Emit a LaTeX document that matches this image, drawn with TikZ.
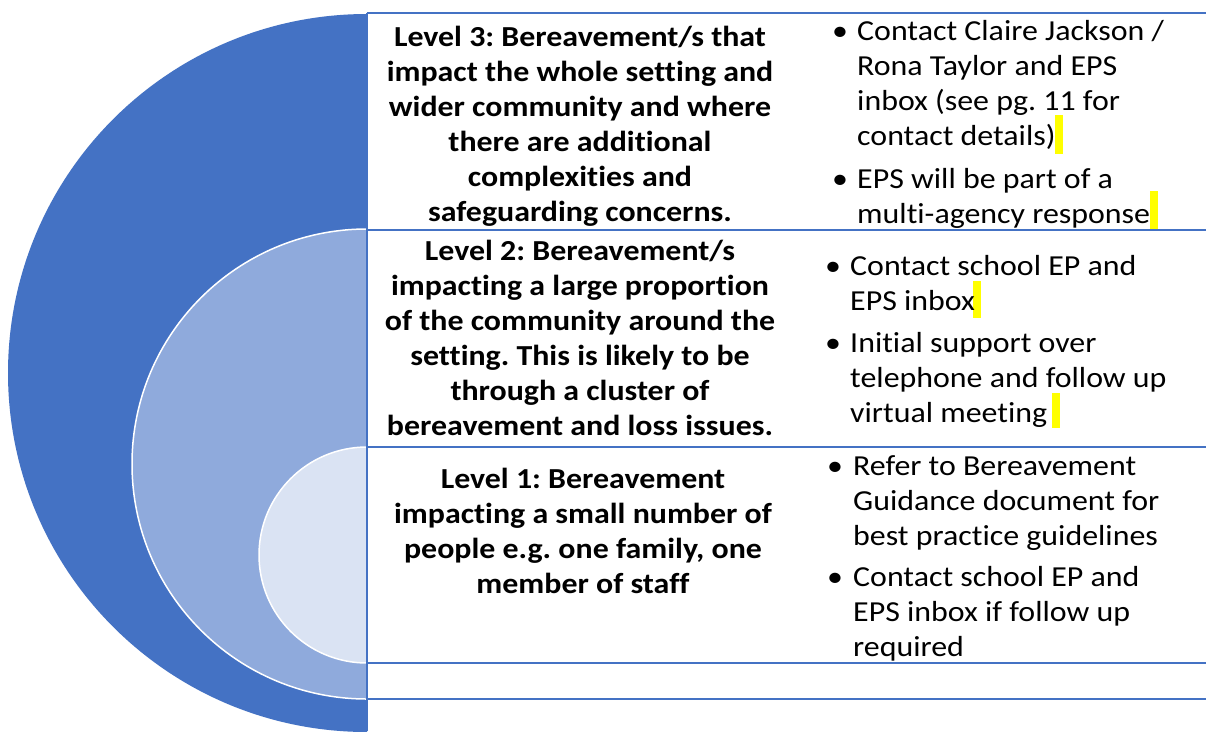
\documentclass[tikz,border=0pt]{standalone}
\usepackage{fontspec}
\setmainfont{Carlito}[FakeStretch=1.1,Ligatures=NoCommon]
\frenchspacing
\definecolor{cdark}{HTML}{4472C4}
\definecolor{cmid}{HTML}{8FAADC}
\definecolor{clight}{HTML}{DAE3F3}
\definecolor{hl}{HTML}{FFFF00}
\begin{document}
\begin{tikzpicture}[x=1pt,y=-1pt,
  rule/.style={draw=cdark,line width=2.6pt},
  lefttext/.style={anchor=north,align=center,inner sep=0pt,font=\bfseries\fontsize{29}{35}\selectfont},
  righttext/.style={anchor=north west,align=left,inner sep=0pt,font=\fontsize{29}{35}\selectfont},
  bul/.style={anchor=base,inner sep=0pt,font=\fontsize{29}{35}\selectfont},
  hlmark/.style={fill=hl,draw=none}]
\useasboundingbox (0,0) rectangle (1206,731);
\fill[white] (0,0) rectangle (1206,731);
% half discs
\begin{scope}
\clip (0,0) rectangle (367,731);
\fill[cdark] (367,373) circle (359pt);
\filldraw[fill=cmid,draw=white,line width=1.5pt] (367,464) circle (235pt);
\filldraw[fill=clight,draw=white,line width=1.5pt] (367,555) circle (108pt);
\end{scope}
% highlight marks
\fill[hlmark] (1055,115) rectangle (1063,154);
\fill[hlmark] (1150,191) rectangle (1158,230);
\fill[hlmark] (973,281) rectangle (981,318);
\fill[hlmark] (1052,393) rectangle (1060,428);
% grid lines
\coordinate (vt) at (367,13);
\coordinate (vb) at (367,731);
\coordinate (h0l) at (367,13);  \coordinate (h0r) at (1206,13);
\coordinate (h1l) at (367,230); \coordinate (h1r) at (1206,230);
\coordinate (h2l) at (367,447); \coordinate (h2r) at (1206,447);
\coordinate (h3l) at (367,663); \coordinate (h3r) at (1206,663);
\coordinate (h4l) at (367,699); \coordinate (h4r) at (1206,699);
\draw[rule] (h0l) -- (h0r);
\draw[rule] (h1l) -- (h1r);
\draw[rule] (h2l) -- (h2r);
\draw[rule] (h3l) -- (h3r);
\draw[rule] (h4l) -- (h4r);
\draw[rule] (vt) -- (vb);
% left column
\node[lefttext] (l3) at (580,21.5) {\strut Level 3: Bereavement/s that\\impact the whole setting and\\wider community and where\\there are additional\\complexities and\\safeguarding concerns.};
\node[lefttext] (l2) at (580,235.5) {\strut Level 2: Bereavement/s\\impacting a large proportion\\of the community around the\\setting. This is likely to be\\through a cluster of\\bereavement and loss issues.};
\node[lefttext] (l1) at (583,463.5) {\strut Level 1: Bereavement\\impacting a small number of\\people e.g. one family, one\\member of staff};
% right column level 3
\node[bul] (b3a) at (840,40) {•};
\node[righttext] (r3a) at (857,15.5) {\strut Contact Claire Jackson /\\Rona Taylor and EPS\\inbox (see pg. 11 for\\contact details)};
\node[bul] (b3b) at (840,188) {•};
\node[righttext] (r3b) at (857,163.5) {\strut EPS will be part of a\\multi-agency response};
% right column level 2
\node[bul] (b2a) at (833,275) {•};
\node[righttext] (r2a) at (850,250.5) {\strut Contact school EP and\\EPS inbox};
\node[bul] (b2b) at (833,352) {•};
\node[righttext] (r2b) at (850,327.5) {\strut Initial support over\\telephone and follow up\\virtual meeting};
% right column level 1
\node[bul] (b1a) at (835,475) {•};
\node[righttext] (r1a) at (853,450.5) {\strut Refer to Bereavement\\Guidance document for\\best practice guidelines};
\node[bul] (b1b) at (835,586) {•};
\node[righttext] (r1b) at (853,561.5) {\strut Contact school EP and\\EPS inbox if follow up\\required};
\end{tikzpicture}
\end{document}
